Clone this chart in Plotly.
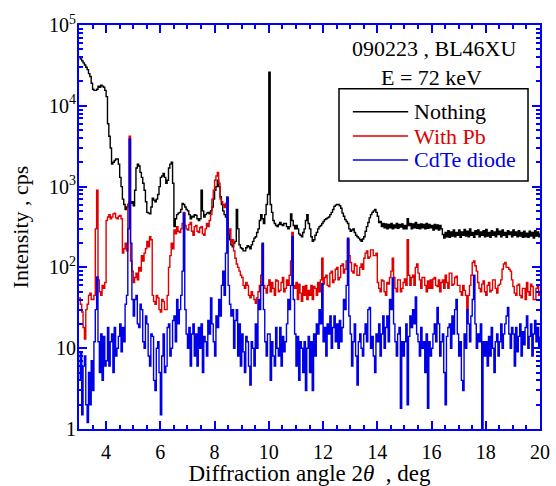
import plotly.graph_objects as go

# x grid: 2-theta in degrees, 0.05 deg steps from 3.00 to 20.00
two_theta = [round(3.0 + 0.05 * i, 2) for i in range(341)]

nothing = [
    40000, 38000, 36000, 34000, 32000, 30000, 28000, 25000, 23000, 19000, 16000, 15500, 15500, 16000, 17500, 17000, 18000, 17500, 17000, 15500,
    13000, 6000, 4200, 3000, 1900, 2000, 2100, 2200, 2200, 1900, 1300, 1000, 700, 600, 520, 560, 600, 650, 620, 650,
    580, 900, 1700, 1900, 1800, 1500, 1300, 1100, 900, 650, 480, 470, 460, 560, 720, 680, 650, 700, 800, 1000,
    1300, 1350, 1450, 1300, 1100, 1200, 1700, 1900, 2000, 1100, 320, 400, 450, 470, 480, 520, 620, 600, 560, 520,
    500, 450, 400, 430, 420, 450, 440, 400, 380, 400, 900, 500, 420, 450, 470, 480, 460, 500, 560, 700,
    900, 1000, 1200, 1000, 750, 600, 500, 450, 420, 400, 260, 220, 190, 180, 200, 210, 520, 300, 190, 175,
    170, 160, 160, 175, 185, 180, 170, 190, 210, 230, 240, 270, 300, 380, 450, 400, 350, 450, 600, 800,
    26000, 600, 480, 380, 350, 330, 320, 340, 360, 340, 330, 350, 350, 320, 300, 320, 460, 380, 330, 300,
    330, 300, 260, 250, 240, 270, 300, 380, 450, 350, 300, 240, 210, 220, 250, 270, 300, 320, 330, 350,
    370, 390, 400, 410, 420, 450, 480, 520, 570, 590, 600, 600, 580, 540, 470, 430, 390, 370, 350, 300,
    280, 290, 300, 270, 250, 240, 230, 220, 210, 225, 240, 280, 320, 360, 410, 450, 480, 500, 520, 480,
    430, 360, 370, 320, 350, 310, 345, 300, 340, 310, 350, 300, 335, 310, 350, 305, 340, 315, 345, 300,
    330, 300, 400, 330, 350, 300, 345, 310, 360, 305, 340, 300, 345, 310, 340, 300, 350, 305, 340, 310,
    330, 290, 340, 300, 335, 290, 330, 300, 255, 230, 270, 240, 285, 235, 275, 245, 290, 240, 270, 250,
    290, 235, 275, 250, 295, 245, 280, 240, 300, 250, 270, 235, 285, 255, 290, 240, 275, 250, 285, 240,
    295, 245, 270, 235, 285, 250, 275, 240, 300, 255, 280, 240, 290, 250, 270, 235, 285, 255, 275, 240,
    290, 250, 275, 240, 285, 245, 270, 235, 280, 240, 265, 235, 280, 245, 270, 230, 285, 245, 275, 240,
    265,
]

with_pb = [
    42, 35, 28, 18, 13, 30, 35, 45, 48, 40, 40, 45, 300, 900, 70, 50, 45, 60, 55, 65,
    380, 420, 450, 400, 420, 460, 470, 410, 400, 430, 440, 400, 150, 170, 200, 160, 600, 4200, 120, 90,
    65, 75, 85, 70, 100, 90, 140, 120, 150, 170, 210, 180, 240, 220, 45, 38, 35, 45, 42, 30,
    28, 40, 38, 30, 30, 45, 100, 140, 200, 170, 290, 260, 320, 280, 270, 300, 350, 480, 330, 300,
    290, 340, 360, 280, 250, 320, 330, 280, 270, 310, 320, 260, 250, 300, 350, 320, 380, 450, 700, 900,
    1200, 1350, 1500, 1100, 700, 650, 600, 550, 620, 740, 260, 300, 200, 220, 160, 130, 110, 100, 90, 80,
    75, 60, 55, 65, 60, 45, 42, 50, 45, 40, 36, 42, 50, 60, 80, 190, 60, 55, 48, 60,
    70, 50, 65, 55, 45, 70, 68, 50, 52, 65, 75, 50, 55, 70, 60, 80, 120, 270, 60, 55,
    65, 40, 62, 48, 38, 58, 45, 60, 40, 52, 45, 60, 40, 58, 55, 45, 65, 50, 70, 130,
    62, 75, 80, 60, 58, 85, 90, 65, 70, 95, 100, 70, 75, 105, 110, 85, 95, 120, 220, 140,
    115, 90, 85, 110, 105, 80, 80, 100, 110, 95, 130, 150, 160, 130, 135, 165, 165, 140, 140, 150,
    65, 55, 50, 70, 68, 50, 45, 65, 62, 75, 90, 130, 75, 55, 50, 70, 70, 50, 55, 65,
    72, 60, 220, 80, 60, 75, 80, 60, 100, 110, 85, 70, 55, 75, 75, 60, 50, 68, 55, 70,
    55, 72, 75, 60, 58, 70, 50, 65, 70, 55, 80, 65, 55, 85, 85, 60, 62, 75, 78, 60,
    60, 50, 45, 60, 52, 45, 30, 45, 60, 80, 115, 120, 105, 90, 65, 55, 50, 62, 68, 50,
    45, 60, 65, 50, 52, 70, 70, 55, 48, 60, 62, 70, 95, 110, 115, 100, 100, 95, 90, 70,
    58, 48, 45, 60, 62, 45, 42, 55, 55, 40, 65, 50, 45, 62, 58, 40, 40, 55, 60, 45,
    50,
]

cdte_diode = [
    4, 9, 1.5, 6, 8, 2, 1.2, 5, 2, 7, 3, 12, 30, 76, 12, 5, 15, 4, 14, 6,
    7, 18, 6, 12, 15, 5, 18, 8, 10, 14, 20, 9, 18, 12, 35, 45, 300, 3900, 200, 40,
    25, 40, 45, 20, 18, 35, 30, 12, 10, 25, 20, 8, 6, 15, 14, 4, 3, 10, 12, 5,
    1.5, 8, 15, 5, 6, 18, 20, 8, 10, 22, 25, 12, 40, 20, 30, 45, 90, 470, 30, 15,
    10, 18, 6, 15, 20, 8, 15, 6, 18, 10, 20, 5, 14, 12, 8, 22, 15, 42, 20, 12,
    8, 25, 18, 40, 25, 60, 90, 45, 150, 740, 60, 35, 25, 30, 10, 22, 30, 8, 20, 6,
    15, 9, 5, 14, 12, 6, 3.5, 12, 10, 6, 20, 10, 40, 30, 60, 200, 30, 12, 8, 15,
    15, 4, 12, 8, 6, 18, 10, 8, 18, 6, 14, 9, 12, 20, 40, 30, 60, 240, 40, 15,
    6, 14, 4, 12, 10, 5, 12, 3, 10, 14, 5, 12, 3, 15, 8, 20, 15, 30, 20, 63,
    12, 18, 8, 20, 15, 25, 10, 18, 25, 12, 20, 10, 22, 12, 18, 40, 30, 60, 230, 25,
    15, 6, 12, 20, 8, 3.5, 12, 15, 10, 8, 15, 20, 12, 30, 32, 10, 14, 8, 5, 15,
    12, 20, 8, 15, 25, 10, 18, 25, 12, 40, 30, 74, 20, 12, 8, 15, 18, 1.8, 12, 8,
    12, 20, 2, 14, 25, 18, 30, 20, 43, 15, 12, 8, 18, 10, 12, 5, 15, 1.8, 12, 8,
    10, 15, 20, 12, 32, 20, 8, 12, 15, 5, 2, 14, 18, 20, 10, 25, 15, 30, 40, 15,
    8, 12, 4, 3, 15, 10, 30, 20, 12, 25, 40, 80, 20, 10, 15, 12, 20, 1, 12, 8,
    12, 6, 14, 8, 18, 10, 5, 12, 15, 8, 12, 20, 10, 15, 20, 25, 32, 15, 10, 18,
    15, 6, 18, 9, 14, 20, 8, 16, 11, 18, 25, 10, 14, 20, 8, 15, 22, 12, 18, 10,
    14,
]

series_names = ["Nothing", "With Pb", "CdTe diode"]
series_colors = ["#000000", "#e00000", "#0000e6"]
x_tick_vals = [4, 6, 8, 10, 12, 14, 16, 18, 20]
y_tick_vals = [1, 10, 100, 1000, 10000, 100000]
y_tick_text = ["1", "10", "10<sup>2</sup>", "10<sup>3</sup>", "10<sup>4</sup>", "10<sup>5</sup>"]
y_minor_vals = [m * 10 ** d for d in range(5) for m in range(2, 10)]

FONT = "Liberation Serif, Times New Roman, DejaVu Serif, serif"
AXIS_BLUE = "#0000ff"

fig = go.Figure()
for name, vals, col in zip(series_names, [nothing, with_pb, cdte_diode], series_colors):
    fig.add_trace(go.Scatter(
        x=two_theta, y=vals, name=name, mode="lines",
        line=dict(color=col, width=1.4, shape="hv"),
        showlegend=False,
    ))

axis_common = dict(
    showline=True, linecolor=AXIS_BLUE, linewidth=2,
    ticks="inside", tickcolor=AXIS_BLUE, tickwidth=1.5, ticklen=8,
    mirror="ticks", showgrid=False, zeroline=False, automargin=False,
    tickfont=dict(family=FONT, size=20, color="black"),
)

fig.update_xaxes(
    range=[3, 20], tickmode="array", tickvals=x_tick_vals, ticklabelstandoff=4,
    minor=dict(dtick=0.5, tick0=3, ticks="inside", ticklen=4, tickcolor=AXIS_BLUE, tickwidth=1.5, showgrid=False),
    title=dict(text="Diffraction angle 2<i>θ</i>  , deg", font=dict(family=FONT, size=23, color="black"), standoff=4),
    **axis_common,
)
fig.update_yaxes(
    type="log", range=[0, 5], tickmode="array", tickvals=y_tick_vals, ticktext=y_tick_text,
    ticklabelstandoff=-3,
    minor=dict(tickmode="array", tickvals=y_minor_vals, ticks="inside", ticklen=4, tickcolor=AXIS_BLUE, tickwidth=1.5, showgrid=False),
    title=dict(text="Intensity , cps", font=dict(family=FONT, size=22, color="black"), standoff=14),
    **axis_common,
)

# legend box drawn in paper coordinates
lx0, lx1, ly0, ly1 = 0.564, 0.974, 0.614, 0.842
shapes = [dict(type="rect", xref="paper", yref="paper", x0=lx0, x1=lx1, y0=ly0, y1=ly1,
               line=dict(color="black", width=1.5), fillcolor="white", layer="above")]
annotations = []
row_y = [0.785, 0.725, 0.666]
for name, col, yy in zip(series_names, series_colors, row_y):
    shapes.append(dict(type="line", xref="paper", yref="paper", x0=0.594, x1=0.714, y0=yy, y1=yy,
                       line=dict(color=col, width=1.5), layer="above"))
    annotations.append(dict(xref="paper", yref="paper", x=0.722, y=yy, text=name, showarrow=False,
                            xanchor="left", yanchor="middle", font=dict(family=FONT, size=22, color=col)))
annotations.append(dict(xref="paper", yref="paper", x=0.772, y=0.941, text="090223 , BL46XU", showarrow=False,
                        xanchor="center", yanchor="middle", font=dict(family=FONT, size=22, color="black")))
annotations.append(dict(xref="paper", yref="paper", x=0.764, y=0.871, text="E = 72 keV", showarrow=False,
                        xanchor="center", yanchor="middle", font=dict(family=FONT, size=22, color="black")))

fig.update_layout(
    width=556, height=486,
    margin=dict(l=79, r=16, t=25, b=57),
    font=dict(family=FONT, color="black"),
    paper_bgcolor="white", plot_bgcolor="white",
    shapes=shapes, annotations=annotations,
    showlegend=False,
)

fig.write_html("out.html")
